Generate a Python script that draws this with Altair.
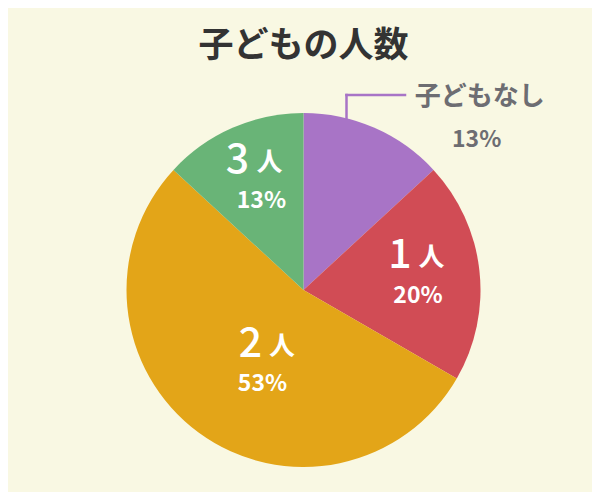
import altair as alt
import pandas as pd

categories = ["子どもなし", "1人", "2人", "3人"]
numbers = ["", "1", "2", "3"]
units = ["", "人", "人", "人"]
values = [13, 20, 53, 13]
pct_labels = ["13%", "20%", "53%", "13%"]
colors = ["#a874c6", "#d14c55", "#e3a518", "#69b477"]

total = sum(values)
df = pd.DataFrame({
    "cat": categories, "num": numbers, "unit": units,
    "value": values, "pct": pct_labels, "order": list(range(len(values))),
})

FONT = "Noto Sans CJK JP"
tscale = alt.Scale(domain=[0, total])

base = alt.Chart(df).transform_window(
    cum="sum(value)", sort=[alt.SortField("order")]
).transform_calculate(
    start="datum.cum - datum.value", mid="datum.cum - datum.value / 2"
)

pie = base.mark_arc(outerRadius=177).encode(
    theta=alt.Theta("start:Q", scale=tscale),
    theta2="cum:Q",
    color=alt.Color("cat:N", scale=alt.Scale(domain=categories, range=colors), legend=None),
)


def txt(cat, field, r, dx, dy, size, weight, color="white", baseline="alphabetic"):
    return base.transform_filter(alt.datum.cat == cat).mark_text(
        radius=r, dx=dx, dy=dy, font=FONT, fontSize=size, fontWeight=weight,
        color=color, align="center", baseline=baseline,
    ).encode(theta=alt.Theta("mid:Q", scale=tscale), text=f"{field}:N")


layers = [pie]
# inner labels: (category, number dx/dy, unit dx/dy, pct dx/dy)
inner = [
    ("1人", (-2.9, -10.9), (28.6, -13), (15.1, 24.1)),
    ("2人", (6.3, -13.5), (37.8, -15.5), (18.3, 20.5)),
    ("3人", (-26, -25.4), (6, -27.4), (-2, 9.6)),
]
for cat, n, u, p in inner:
    layers.append(txt(cat, "num", 100, n[0], n[1], 41, 500))
    layers.append(txt(cat, "unit", 100, u[0], u[1], 26, "bold"))
    layers.append(txt(cat, "pct", 100, p[0], p[1], 23, "bold"))

gray = "#6d6d72"
layers.append(txt("子どもなし", "cat", 200, 96, -2, 26, "bold", color=gray))
layers.append(txt("子どもなし", "pct", 200, 93, 40.2, 23, "bold", color=gray))

lead = base.transform_filter(alt.datum.cat == "子どもなし")
layers.append(lead.mark_rule(color=colors[0], strokeWidth=2.5, strokeCap="square").encode(
    x=alt.value(330.5), y=alt.value(5), y2=alt.value(28)))
layers.append(lead.mark_rule(color=colors[0], strokeWidth=2.5, strokeCap="square").encode(
    x=alt.value(330.5), x2=alt.value(389), y=alt.value(5)))

chart = alt.layer(*layers).properties(
    width=575, height=400,
    autosize=alt.AutoSizeParams(type="none"),
    padding={"left": 8, "top": 82, "right": 1, "bottom": 2},
    background="#f9f8e3",
    title=alt.TitleParams("子どもの人数", font=FONT, fontSize=35, fontWeight="bold",
                          color="#333333", anchor="middle", offset=20),
).configure_view(stroke=None)

chart.save("out.html", embed_options={"renderer": "svg", "actions": False})
